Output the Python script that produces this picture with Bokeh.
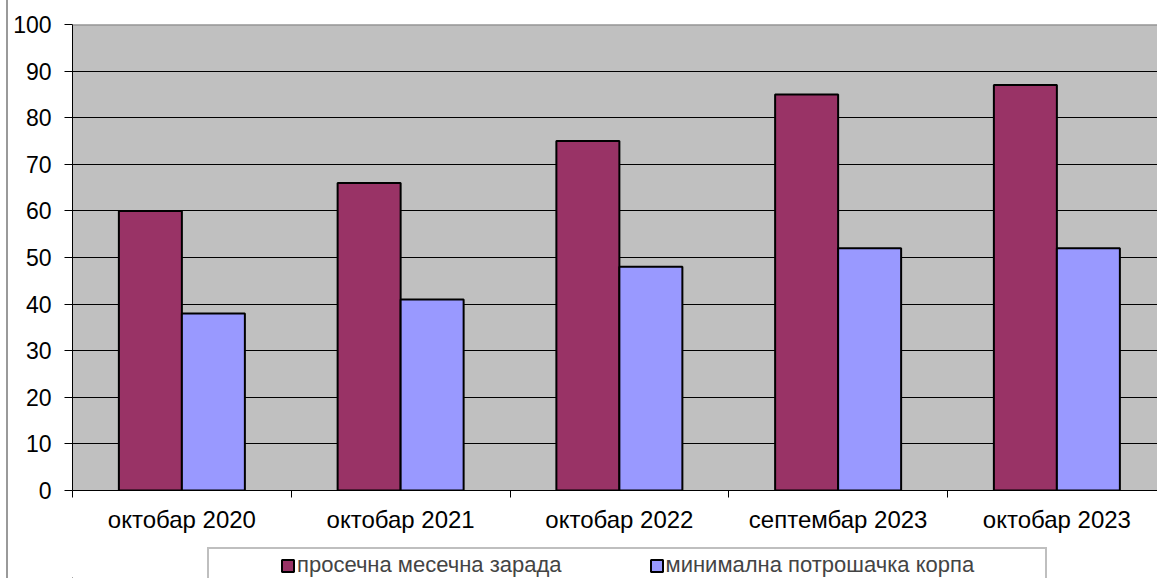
import numpy as np
from bokeh.plotting import figure
from bokeh.layouts import column
from bokeh.models import Range1d, FixedTicker, Legend, LegendItem, Span
from bokeh.embed import file_html
from bokeh.resources import INLINE

categories = ["октобар 2020", "октобар 2021", "октобар 2022", "септембар 2023", "октобар 2023"]
salary = [60, 66, 75, 85, 87]          # просечна месечна зарада
basket = [38, 41, 48, 52, 52]          # минимална потрошачка корпа
y_ticks = [0, 10, 20, 30, 40, 50, 60, 70, 80, 90, 100]
series_names = ["просечна месечна зарада", "минимална потрошачка корпа"]
colors = ["#993366", "#9999FF"]

FONT = "Liberation Sans"

centers = np.arange(len(categories)) + 0.5
bw = 0.288

p = figure(width=1149, height=545, output_backend="svg", toolbar_location=None,
           x_range=Range1d(0, 4.96), y_range=Range1d(0, 100),
           min_border_left=64, min_border_right=0, min_border_top=24, min_border_bottom=55,
           background_fill_color="#C0C0C0", border_fill_color="white",
           outline_line_color=None)

r1 = p.vbar(x=centers - bw / 2, top=salary, width=bw, bottom=0,
            fill_color=colors[0], line_color="black", line_width=2)
r2 = p.vbar(x=centers + bw / 2, top=basket, width=bw, bottom=0,
            fill_color=colors[1], line_color="black", line_width=2)

p.add_layout(Span(location=100, dimension="width", line_color="#808080", line_width=2))

# y axis
yt = FixedTicker(ticks=y_ticks)
p.yaxis.ticker = yt
p.ygrid.ticker = yt
p.ygrid.grid_line_color = "black"
p.ygrid.grid_line_width = 1
p.xgrid.visible = False
p.yaxis.axis_line_color = "black"
p.yaxis.major_tick_out = 8
p.yaxis.major_tick_in = 0
p.yaxis.minor_tick_out = 0
p.yaxis.minor_tick_in = 0
p.yaxis.major_label_standoff = 13
p.yaxis.major_label_text_font = FONT
p.yaxis.major_label_text_font_size = "23px"
p.yaxis.major_label_text_color = "black"

# x axis: labels at category centres, tick marks at category boundaries
xt = FixedTicker(ticks=list(centers), minor_ticks=list(range(len(categories) + 1)))
p.xaxis.ticker = xt
p.xaxis.major_label_overrides = {float(c): lab for c, lab in zip(centers, categories)}
p.xaxis.axis_line_color = "black"
p.xaxis.major_tick_out = 0
p.xaxis.major_tick_in = 0
p.xaxis.minor_tick_out = 7
p.xaxis.minor_tick_in = 0
p.xaxis.minor_tick_line_color = "black"
p.xaxis.major_label_standoff = 8
p.xaxis.major_label_text_font = FONT
p.xaxis.major_label_text_font_size = "24px"
p.xaxis.major_label_text_color = "black"

# legend strip below the chart
q = figure(width=1149, height=33, output_backend="svg", toolbar_location=None,
           x_range=Range1d(0, 1), y_range=Range1d(0, 1),
           x_axis_type=None, y_axis_type=None,
           min_border_left=64, min_border_right=0, min_border_top=0, min_border_bottom=0,
           background_fill_color="white", border_fill_color="white",
           outline_line_color=None)
q.xgrid.visible = False
q.ygrid.visible = False
# legend swatches (their single point lies outside the visible range)
l1 = q.vbar(x=[-10], top=[-10], bottom=[-20], width=0.1,
            fill_color=colors[0], line_color="black", line_width=2)
l2 = q.vbar(x=[-10], top=[-10], bottom=[-20], width=0.1,
            fill_color=colors[1], line_color="black", line_width=2)
# invisible spacer entries that reproduce the wide spacing of the original legend
d1 = q.vbar(x=[-10], top=[-10], bottom=[-20], width=0.1, fill_alpha=0, line_alpha=0)
d2 = q.vbar(x=[-10], top=[-10], bottom=[-20], width=0.1, fill_alpha=0, line_alpha=0)
d3 = q.vbar(x=[-10], top=[-10], bottom=[-20], width=0.1, fill_alpha=0, line_alpha=0)

legend = Legend(items=[LegendItem(label=" ", renderers=[d1]),
                       LegendItem(label=series_names[0], renderers=[l1]),
                       LegendItem(label=" ", renderers=[d2]),
                       LegendItem(label=series_names[1], renderers=[l2]),
                       LegendItem(label=" ", renderers=[d3])],
                orientation="horizontal", location=(135, -5),
                padding=3, spacing=19, margin=0, label_width=32,
                glyph_width=15, glyph_height=15, label_standoff=2,
                label_text_font=FONT, label_text_font_size="22px",
                border_line_color="#808080", border_line_width=2,
                background_fill_color="white", background_fill_alpha=1)
q.add_layout(legend)

layout = column(p, q, spacing=0,
                styles={"margin-left": "6px", "border-left": "2px solid #9a9a9a"})

open("out.html", "w").write(file_html(layout, INLINE))
